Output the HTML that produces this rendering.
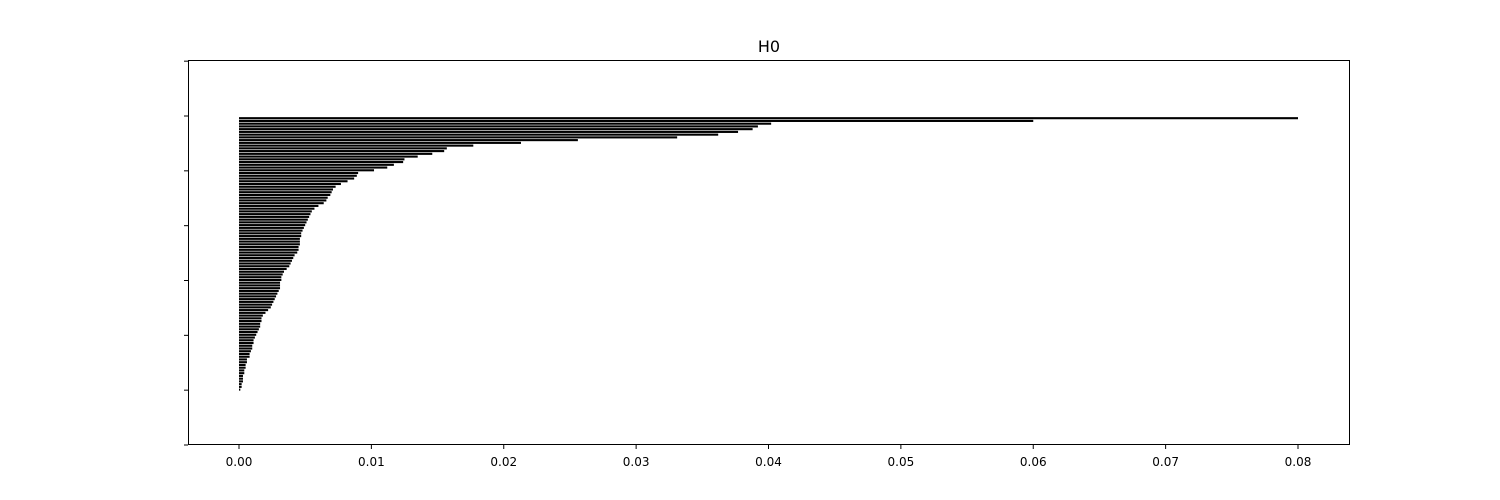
<!DOCTYPE html>
<html><head><meta charset="utf-8"><style>body{margin:0;background:#fff}svg{display:block;font-family:"DejaVu Sans","Liberation Sans",sans-serif}</style></head>
<body>
<svg id="chart" width="1500" height="500"></svg>
<script>
const deaths=[0.0800,0.0600,0.0402,0.0392,0.0388,0.0377,0.0362,0.0331,0.0256,0.0213,0.0177,0.0157,0.0155,0.0146,0.0135,0.0125,0.0124,0.0117,0.0112,0.0102,0.0090,0.0089,0.0087,0.0082,0.0077,0.0073,0.0071,0.0070,0.0069,0.0067,0.0066,0.0064,0.0060,0.0057,0.0055,0.0054,0.0053,0.0052,0.0051,0.0050,0.0049,0.0048,0.0047,0.0047,0.0046,0.0046,0.0046,0.0045,0.0045,0.0044,0.0042,0.0041,0.0040,0.0039,0.0038,0.0036,0.0034,0.0033,0.0032,0.0032,0.0031,0.0031,0.0031,0.0030,0.0029,0.0028,0.0027,0.0026,0.0025,0.0024,0.0022,0.0020,0.0018,0.0017,0.0017,0.0016,0.0016,0.0015,0.0014,0.0013,0.0012,0.0011,0.0011,0.0010,0.0010,0.0009,0.0008,0.0008,0.0006,0.0006,0.0005,0.0005,0.0004,0.0004,0.0003,0.0003,0.0003,0.0002,0.0002,0.0001];
const births=deaths.map(()=>0);
const xTicks=[0,0.01,0.02,0.03,0.04,0.05,0.06,0.07,0.08];
const xTickLabels=["0.00","0.01","0.02","0.03","0.04","0.05","0.06","0.07","0.08"];
const yTicks=[-20,0,20,40,60,80,100,120];
const L=188,R=1350,T=60,B=445;
const x=v=>239+v*(1298-239)/0.08;
const y=i=>116+(i+0.8)*(445-116)/120;
const yt=v=>116+v*(445-116)/120;
const svg=document.getElementById('chart');
const NS='http://www.w3.org/2000/svg';
function mk(t,a){const e=document.createElementNS(NS,t);for(const k in a)e.setAttribute(k,a[k]);svg.appendChild(e);return e;}
deaths.forEach((d,i)=>{
 const r=mk('rect',{x:x(births[i]),y:y(i)-1.05,width:x(d)-x(births[i]),height:2.1,fill:'#000'});
 
 
});
const frame=mk('rect',{x:L+0.5,y:T+0.5,width:R-L-1,height:B-T-1,fill:'none',stroke:'#000','stroke-width':1});


xTicks.forEach((v,i)=>{
 const l=mk('line',{x1:x(v),x2:x(v),y1:B,y2:B+4,stroke:'#000'});
 
 
 const t=mk('text',{x:x(v),y:B+21,'text-anchor':'middle','font-size':12});
 t.textContent=xTickLabels[i];
 
 
});
yTicks.forEach(v=>{
 const l=mk('line',{x1:L-4,x2:L,y1:yt(v),y2:yt(v),stroke:'#000'});
 
 
});
const title=mk('text',{x:769,y:52,'text-anchor':'middle','font-size':16});
title.textContent='H0';


</script>
</body></html>
